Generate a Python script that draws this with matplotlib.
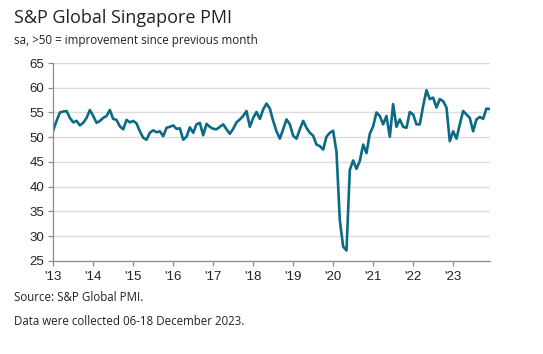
import matplotlib
matplotlib.use("Agg")
import matplotlib.pyplot as plt
import numpy as np
import pandas as pd

# Monthly PMI readings, Jan 2013 - Dec 2023
pmi_2013 = [51.4, 53.3, 55.0, 55.2, 55.3, 53.9, 53.0, 53.3, 52.4, 52.9, 53.9, 55.5]
pmi_2014 = [54.3, 52.9, 53.3, 53.9, 54.3, 55.5, 53.7, 53.5, 52.2, 51.6, 53.5, 53.0]
pmi_2015 = [53.3, 52.8, 51.2, 49.9, 49.5, 50.9, 51.4, 51.0, 51.2, 50.2, 51.9, 52.1]
pmi_2016 = [52.4, 51.7, 51.8, 49.5, 50.1, 52.0, 50.9, 52.6, 52.9, 50.4, 52.7, 52.1]
pmi_2017 = [51.7, 51.6, 52.1, 52.6, 51.6, 50.7, 51.7, 53.0, 53.6, 54.3, 55.3, 52.1]
pmi_2018 = [53.9, 55.1, 53.7, 55.6, 56.8, 55.8, 53.3, 51.2, 49.7, 51.6, 53.6, 52.6]
pmi_2019 = [50.3, 49.7, 51.6, 53.3, 51.9, 50.9, 50.3, 48.5, 48.2, 47.5, 50.1, 50.9]
pmi_2020 = [51.3, 47.0, 33.2, 27.9, 27.1, 43.4, 45.3, 43.6, 45.2, 48.5, 46.8, 50.7]
pmi_2021 = [52.2, 55.0, 54.3, 52.6, 54.3, 50.1, 56.7, 52.1, 53.6, 52.1, 51.9, 55.1]
pmi_2022 = [54.6, 52.6, 52.6, 56.3, 59.5, 57.7, 58.0, 56.0, 57.7, 57.3, 56.0, 49.2]
pmi_2023 = [51.2, 49.7, 52.6, 55.3, 54.6, 53.9, 51.2, 53.6, 54.1, 53.7, 55.8, 55.7]

year_labels = ["'13", "'14", "'15", "'16", "'17", "'18", "'19", "'20", "'21", "'22", "'23"]
y_ticks = [25, 30, 35, 40, 45, 50, 55, 60, 65]

values = (pmi_2013 + pmi_2014 + pmi_2015 + pmi_2016 + pmi_2017 + pmi_2018
          + pmi_2019 + pmi_2020 + pmi_2021 + pmi_2022 + pmi_2023)
dates = pd.date_range("2013-01-01", periods=len(values), freq="MS")
t = dates.year + (dates.month - 1) / 12

fig = plt.figure(figsize=(5.43, 3.54), dpi=100)
ax = fig.add_axes([0.098, 0.263, 0.804, 0.559])

line_color = "#0c6a82"
ax.plot(t, values, color=line_color, linewidth=1.9, solid_joinstyle="round")

ax.set_xlim(t[0], t[-1])
ax.set_ylim(25, 65)
ax.set_yticks(y_ticks)
ax.set_xticks(np.arange(2013, 2024))
ax.set_xticklabels(year_labels)

ax.grid(axis="y", color="#dcdcdc", linewidth=1.0)
ax.set_axisbelow(True)
for s in ["top", "right"]:
    ax.spines[s].set_visible(False)
for s in ["left", "bottom"]:
    ax.spines[s].set_color("#8c8c8c")
    ax.spines[s].set_linewidth(0.9)

ax.tick_params(axis="both", colors="#8c8c8c", length=3.5, width=0.9,
               labelcolor="#222222", labelsize=9.5)
ax.tick_params(axis="x", pad=4)
ax.tick_params(axis="y", pad=3)
for lab in ax.get_xticklabels() + ax.get_yticklabels():
    lab.set_family("Liberation Sans")

fig.text(0.026, 0.935, "S&P Global Singapore PMI", fontsize=13, color="#222222",
         family="Open Sans", va="baseline")
fig.text(0.026, 0.877, "sa, >50 = improvement since previous month", fontsize=8.4,
         color="#222222", family="Open Sans", va="baseline")
fig.text(0.026, 0.150, "Source: S&P Global PMI.", fontsize=8.3, color="#222222",
         family="Open Sans", va="baseline")
fig.text(0.026, 0.083, "Data were collected 06-18 December 2023.", fontsize=8.3,
         color="#222222", family="Open Sans", va="baseline")

fig.savefig("out.png", dpi=100)
